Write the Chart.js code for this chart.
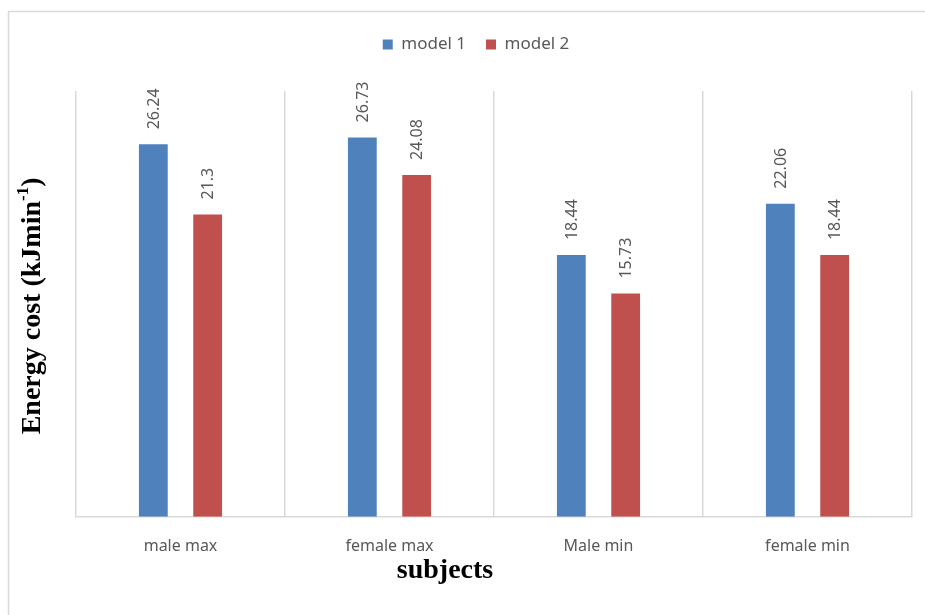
<!DOCTYPE html>
<html>
<head>
<meta charset="utf-8">
<script src="https://cdn.jsdelivr.net/npm/chart.js@4.4.1/dist/chart.umd.min.js"></script>
<style>
  html, body { margin: 0; padding: 0; background: #ffffff; }
  #wrap { width: 925px; height: 615px; position: relative; }
</style>
</head>
<body>
<div id="wrap"><canvas id="energyChart" width="925" height="615"></canvas></div>
<script>
// data
const categories = ["male max", "female max", "Male min", "female min"];
const model1Values = [26.24, 26.73, 18.44, 22.06];
const model2Values = [21.3, 24.08, 15.73, 18.44];
const seriesNames = ["model 1", "model 2"];
const yMin = 0;
const yMax = 30;

const axisGray = "#d9d9d9";
const textGray = "#595959";

// outer frame of the chart (left and top edges only are visible)
const framePlugin = {
  id: "frame",
  beforeDraw(chart) {
    const ctx = chart.ctx;
    ctx.save();
    ctx.strokeStyle = axisGray;
    ctx.lineWidth = 1.5;
    ctx.beginPath();
    ctx.moveTo(8.5, 615);
    ctx.lineTo(8.5, 11.5);
    ctx.lineTo(925, 11.5);
    ctx.stroke();
    ctx.restore();
  }
};

// legend sits a little left of the plot centre in the original
const legendShiftPlugin = {
  id: "legendShift",
  afterLayout(chart) {
    if (chart.legend) {
      chart.legend.left -= 18;
      chart.legend.right -= 18;
    }
  }
};

// rotated value labels above each bar
const valueLabelPlugin = {
  id: "valueLabels",
  afterDatasetsDraw(chart) {
    const ctx = chart.ctx;
    ctx.save();
    ctx.font = "16px 'Noto Sans'";
    ctx.fillStyle = textGray;
    ctx.textAlign = "left";
    ctx.textBaseline = "middle";
    chart.data.datasets.forEach((ds, di) => {
      chart.getDatasetMeta(di).data.forEach((bar, i) => {
        ctx.save();
        ctx.translate(bar.x + 1, bar.y - 15);
        ctx.rotate(-Math.PI / 2);
        ctx.fillText(String(ds.data[i]), 0, 0);
        ctx.restore();
      });
    });
    ctx.restore();
  }
};

// axis titles (y title has a superscript)
const axisTitlePlugin = {
  id: "axisTitles",
  afterDraw(chart) {
    const ctx = chart.ctx;
    const area = chart.chartArea;
    ctx.save();
    ctx.fillStyle = "#000000";

    ctx.font = "bold 28px 'Liberation Serif'";
    ctx.textAlign = "center";
    ctx.textBaseline = "middle";
    ctx.fillText("subjects", 445, 571);

    const mainFont = "bold 28px 'Liberation Serif'";
    const supFont = "bold 17px 'Liberation Serif'";
    const partA = "Energy cost (kJmin";
    const partSup = "-1";
    const partB = ")";
    ctx.font = mainFont;
    const wA = ctx.measureText(partA).width;
    const wB = ctx.measureText(partB).width;
    ctx.font = supFont;
    const wS = ctx.measureText(partSup).width;
    const total = wA + wS + wB;

    ctx.translate(33, (area.top + area.bottom) / 2 + 2);
    ctx.rotate(-Math.PI / 2);
    ctx.textAlign = "left";
    ctx.textBaseline = "middle";
    let x = -total / 2;
    ctx.font = mainFont;
    ctx.fillText(partA, x, 0);
    x += wA;
    ctx.font = supFont;
    ctx.fillText(partSup, x, -9);
    x += wS;
    ctx.font = mainFont;
    ctx.fillText(partB, x, 0);
    ctx.restore();
  }
};

new Chart(document.getElementById("energyChart"), {
  type: "bar",
  data: {
    labels: categories,
    datasets: [
      {
        label: seriesNames[0],
        data: model1Values,
        backgroundColor: "#4f81bd",
        categoryPercentage: 0.52,
        barPercentage: 0.53
      },
      {
        label: seriesNames[1],
        data: model2Values,
        backgroundColor: "#c0504d",
        categoryPercentage: 0.52,
        barPercentage: 0.53
      }
    ]
  },
  options: {
    responsive: false,
    animation: false,
    devicePixelRatio: 1,
    layout: {
      padding: { top: 16, left: 76, right: 13, bottom: 39 }
    },
    plugins: {
      legend: {
        position: "top",
        labels: {
          boxWidth: 10,
          boxHeight: 10,
          padding: 20,
          color: textGray,
          font: { family: "'Noto Sans'", size: 17 }
        }
      },
      // empty spacer between the legend and the plot
      title: {
        display: true,
        text: "",
        weight: 500,
        padding: 0,
        font: { size: 28, lineHeight: 1 }
      },
      tooltip: { enabled: false }
    },
    scales: {
      x: {
        grid: {
          offset: true,
          color: axisGray,
          lineWidth: 1.5,
          drawTicks: false
        },
        border: { color: axisGray, width: 1.5 },
        ticks: {
          color: textGray,
          padding: 20,
          font: { family: "'Noto Sans'", size: 16 }
        }
      },
      y: {
        display: false,
        min: yMin,
        max: yMax
      }
    }
  },
  plugins: [framePlugin, legendShiftPlugin, valueLabelPlugin, axisTitlePlugin]
});
</script>
</body>
</html>
